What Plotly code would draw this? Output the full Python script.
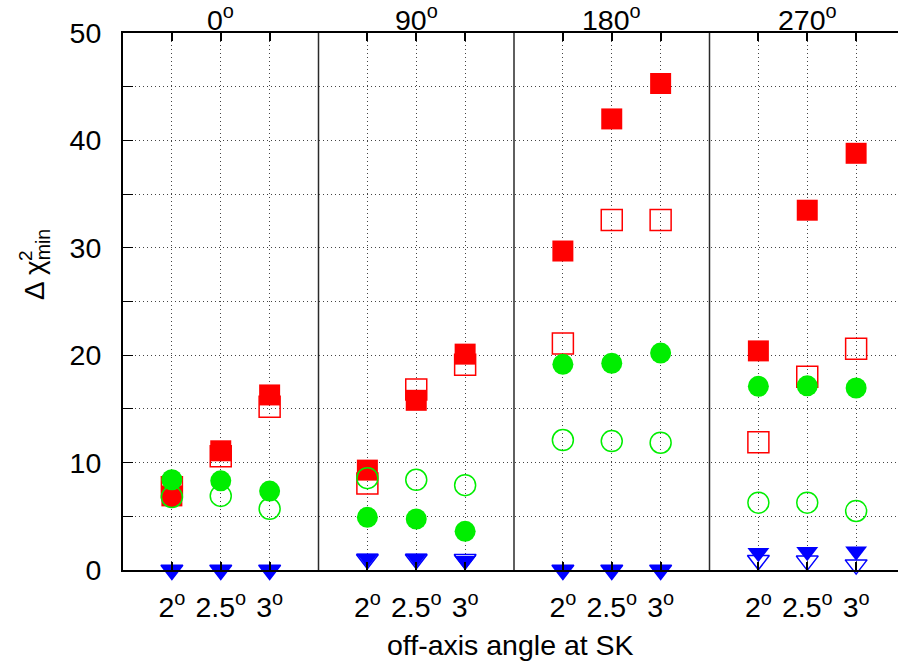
import plotly.graph_objects as go

# Panels (azimuth of the beam direction) and off-axis angles within each panel
panels = ["0", "90", "180", "270"]
angles = [2.0, 2.5, 3.0]
angle_labels = ["2", "2.5", "3"]

# Delta chi^2_min, listed panel by panel, 3 off-axis angles each
red_sq_filled = [6.9, 11.1, 16.3, 9.3, 15.8, 20.1, 29.7, 42.0, 45.3, 20.4, 33.5, 38.8]
red_sq_open = [7.7, 10.6, 15.2, 8.05, 16.8, 19.1, 21.1, 32.6, 32.6, 11.9, 18.0, 20.6]
red_circle = [6.8, None, None, None, None, None, None, None, None, None, None, None]
green_filled = [8.4, 8.3, 7.35, 4.9, 4.75, 3.6, 19.15, 19.25, 20.2, 17.1, 17.15, 16.95]
green_open = [6.8, 6.9, 5.7, 8.55, 8.4, 7.9, 12.1, 12.0, 11.85, 6.27, 6.27, 5.5]
blue_filled = [0.0, 0.0, 0.0, 1.1, 1.1, 0.85, 0.0, 0.0, 0.0, 1.6, 1.7, 1.75]
blue_open = [0.0, 0.0, 0.0, 1.0, 1.0, 1.0, 0.0, 0.0, 0.0, 0.9, 0.85, 0.5]

PANEL_W = 2.0  # each panel spans 2 x-units, centred on 2.5 deg
xs = [a + PANEL_W * k for k in range(len(panels)) for a in angles]
tick_text = [f"{lab}<sup>o</sup>" for _ in panels for lab in angle_labels]

FONT = "Liberation Sans, Arial, Helvetica, sans-serif"
FS = 28.5
RED, GREEN, BLUE = "#ff0000", "#00ee00", "#0000ff"

fig = go.Figure()

def add(y, symbol, color, size, open_marker=False):
    fig.add_trace(go.Scatter(
        x=xs, y=y, mode="markers", cliponaxis=False, showlegend=False,
        marker=dict(
            symbol=symbol, size=size,
            color=color,
            line=dict(color=color, width=1.5 if open_marker else 0),
        ),
    ))

add(red_sq_filled, "square", RED, 21)
add(red_sq_open, "square-open", RED, 21, True)
add(red_circle, "circle", RED, 21)
add(green_filled, "circle", GREEN, 21)
add(green_open, "circle-open", GREEN, 21, True)
add(blue_filled, "triangle-down", BLUE, 19)
add(blue_open, "triangle-down-open", BLUE, 19, True)

x0 = angles[0] - 0.5
x_right = x0 + 775 / 97.75  # plot runs off the right edge of the page

# vertical separators between panels
for k in range(1, len(panels)):
    fig.add_shape(type="line", xref="x", yref="y",
                  x0=x0 + PANEL_W * k, x1=x0 + PANEL_W * k, y0=0, y1=50,
                  line=dict(color="#2a2a2a", width=1.5), layer="below")

# panel titles
for k, p in enumerate(panels):
    fig.add_annotation(x=2.5 + PANEL_W * k, y=1, xref="x", yref="paper",
                       text=f"{p}<sup>o</sup>", showarrow=False,
                       xanchor="center", yanchor="bottom", yshift=-5,
                       font=dict(size=FS, family=FONT, color="black"))

# axis titles
fig.add_annotation(x=0.5, y=0, xref="paper", yref="paper", yshift=-75,
                   text="off-axis angle at SK", showarrow=False,
                   xanchor="center", yanchor="middle",
                   font=dict(size=FS, family=FONT, color="black"))
fig.add_annotation(x=0, y=0, xref="paper", yref="paper", xshift=-87, yshift=305,
                   text="Δ χ<sub>min</sub>", showarrow=False, textangle=-90,
                   xanchor="center", yanchor="middle",
                   font=dict(size=28, family=FONT, color="black"))
fig.add_annotation(x=0, y=0, xref="paper", yref="paper", xshift=-98, yshift=314,
                   text="2", showarrow=False, textangle=-90,
                   xanchor="center", yanchor="middle",
                   font=dict(size=19, family=FONT, color="black"))

grid = dict(gridcolor="#444444", gridwidth=1, griddash="1px,3px")

fig.update_xaxes(
    range=[x0, x_right], tickmode="array", tickvals=xs, ticktext=tick_text,
    ticks="inside", ticklen=8, tickwidth=1.5, tickcolor="black",
    showline=True, linecolor="black", linewidth=2, mirror="allticks",
    showgrid=True, zeroline=False, ticklabelstandoff=11,
    tickfont=dict(size=FS, family=FONT, color="black"), **grid,
)
fig.update_yaxes(
    range=[0, 50], tickmode="array", tickvals=[0, 10, 20, 30, 40, 50],
    ticks="inside", ticklen=10, tickwidth=1.2, tickcolor="black",
    showline=True, linecolor="black", linewidth=2,
    showgrid=True, zeroline=False, ticklabelstandoff=14,
    tickfont=dict(size=FS, family=FONT, color="black"),
    minor=dict(tickmode="linear", tick0=0, dtick=5, ticks="inside", ticklen=10,
               tickwidth=1.2, tickcolor="black", showgrid=True, **grid),
    **grid,
)

fig.update_layout(
    width=898, height=665,
    margin=dict(l=123, r=0, t=33, b=95),
    paper_bgcolor="white", plot_bgcolor="white",
    font=dict(family=FONT, color="black"),
)

fig.write_html("out.html", config={"displayModeBar": False})
